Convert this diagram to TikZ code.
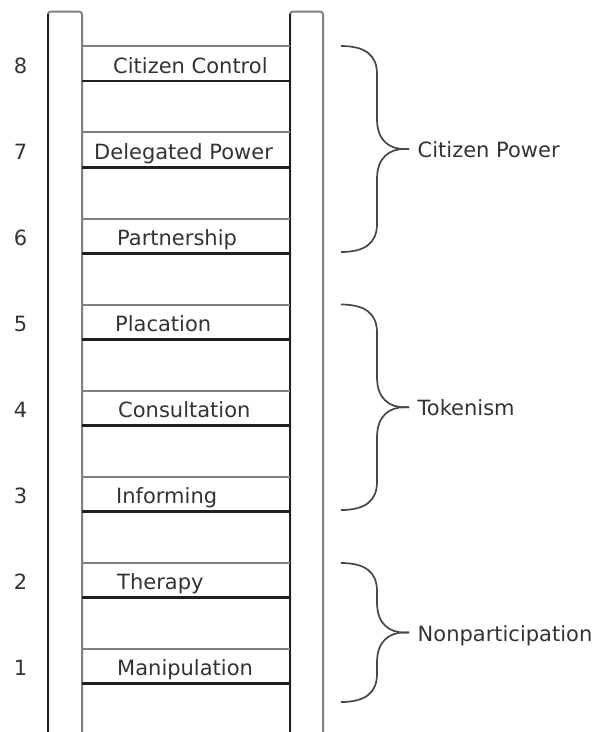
\documentclass[tikz,border=0pt]{standalone}
\usepackage{fontspec}
\setmainfont{DejaVu Sans}
\begin{document}
\begin{tikzpicture}[x=1pt,y=-1pt,
  txt/.style={font=\fontsize{21}{24}\selectfont, text=black!80, inner sep=0pt},
  darkline/.style={line width=2.7pt, draw=black!88},
  lightline/.style={line width=2pt, draw=black!50},
  bracepath/.style={line width=1.7pt, draw=black!72}]
\useasboundingbox (0,0) rectangle (613,732);
% rails
\draw[lightline, rounded corners=3pt] (48,740) -- (48,11.5) -- (82,11.5) -- (82,740);
\draw[darkline] (48,740) -- (48,14);
\draw[lightline, rounded corners=3pt] (290,740) -- (290,11.5) -- (323,11.5) -- (323,740);
\draw[darkline] (290,740) -- (290,14);
% rungs
\foreach \i/\lab/\lx in {1/Manipulation/117, 2/Therapy/117, 3/Informing/116, 4/Consultation/118,
                         5/Placation/115, 6/Partnership/117, 7/Delegated Power/94, 8/Citizen Control/113} {
  \pgfmathsetmacro{\yt}{649-(\i-1)*86.1}
  \pgfmathsetmacro{\yb}{\yt+34.8}
  \pgfmathsetmacro{\ybase}{\yt+26.8}
  \draw[lightline] (82,\yt) -- (290,\yt);
  \draw[darkline] (82,\yb) -- (290,\yb);
  \node[txt, anchor=base west] (rung\i) at (\lx,\ybase) {\lab};
  \node[txt, anchor=base] (num\i) at (20.5,\ybase) {\i};
}
% braces
\foreach \t/\b/\nm/\lab in {46/252/cp/Citizen Power, 304.5/510/tk/Tokenism, 563/702/np/Nonparticipation} {
  \pgfmathsetmacro{\m}{(\t+\b)/2}
  \coordinate (tip\nm) at (409,\m);
  \draw[bracepath] (341,\t) .. controls (365,\t) and (377,\t+9) .. (377,\t+28)
     -- (377,\m-30) .. controls (377,\m-8) and (390,\m) .. (404,\m) -- (tip\nm);
  \draw[bracepath] (tip\nm) -- (404,\m) .. controls (390,\m) and (377,\m+8) .. (377,\m+30)
     -- (377,\b-28) .. controls (377,\b-9) and (365,\b) .. (341,\b);
  \node[txt, anchor=base west] (lab\nm) at ([xshift=8.5pt,yshift=-8.5pt]tip\nm) {\lab};
}
\end{tikzpicture}
\end{document}
